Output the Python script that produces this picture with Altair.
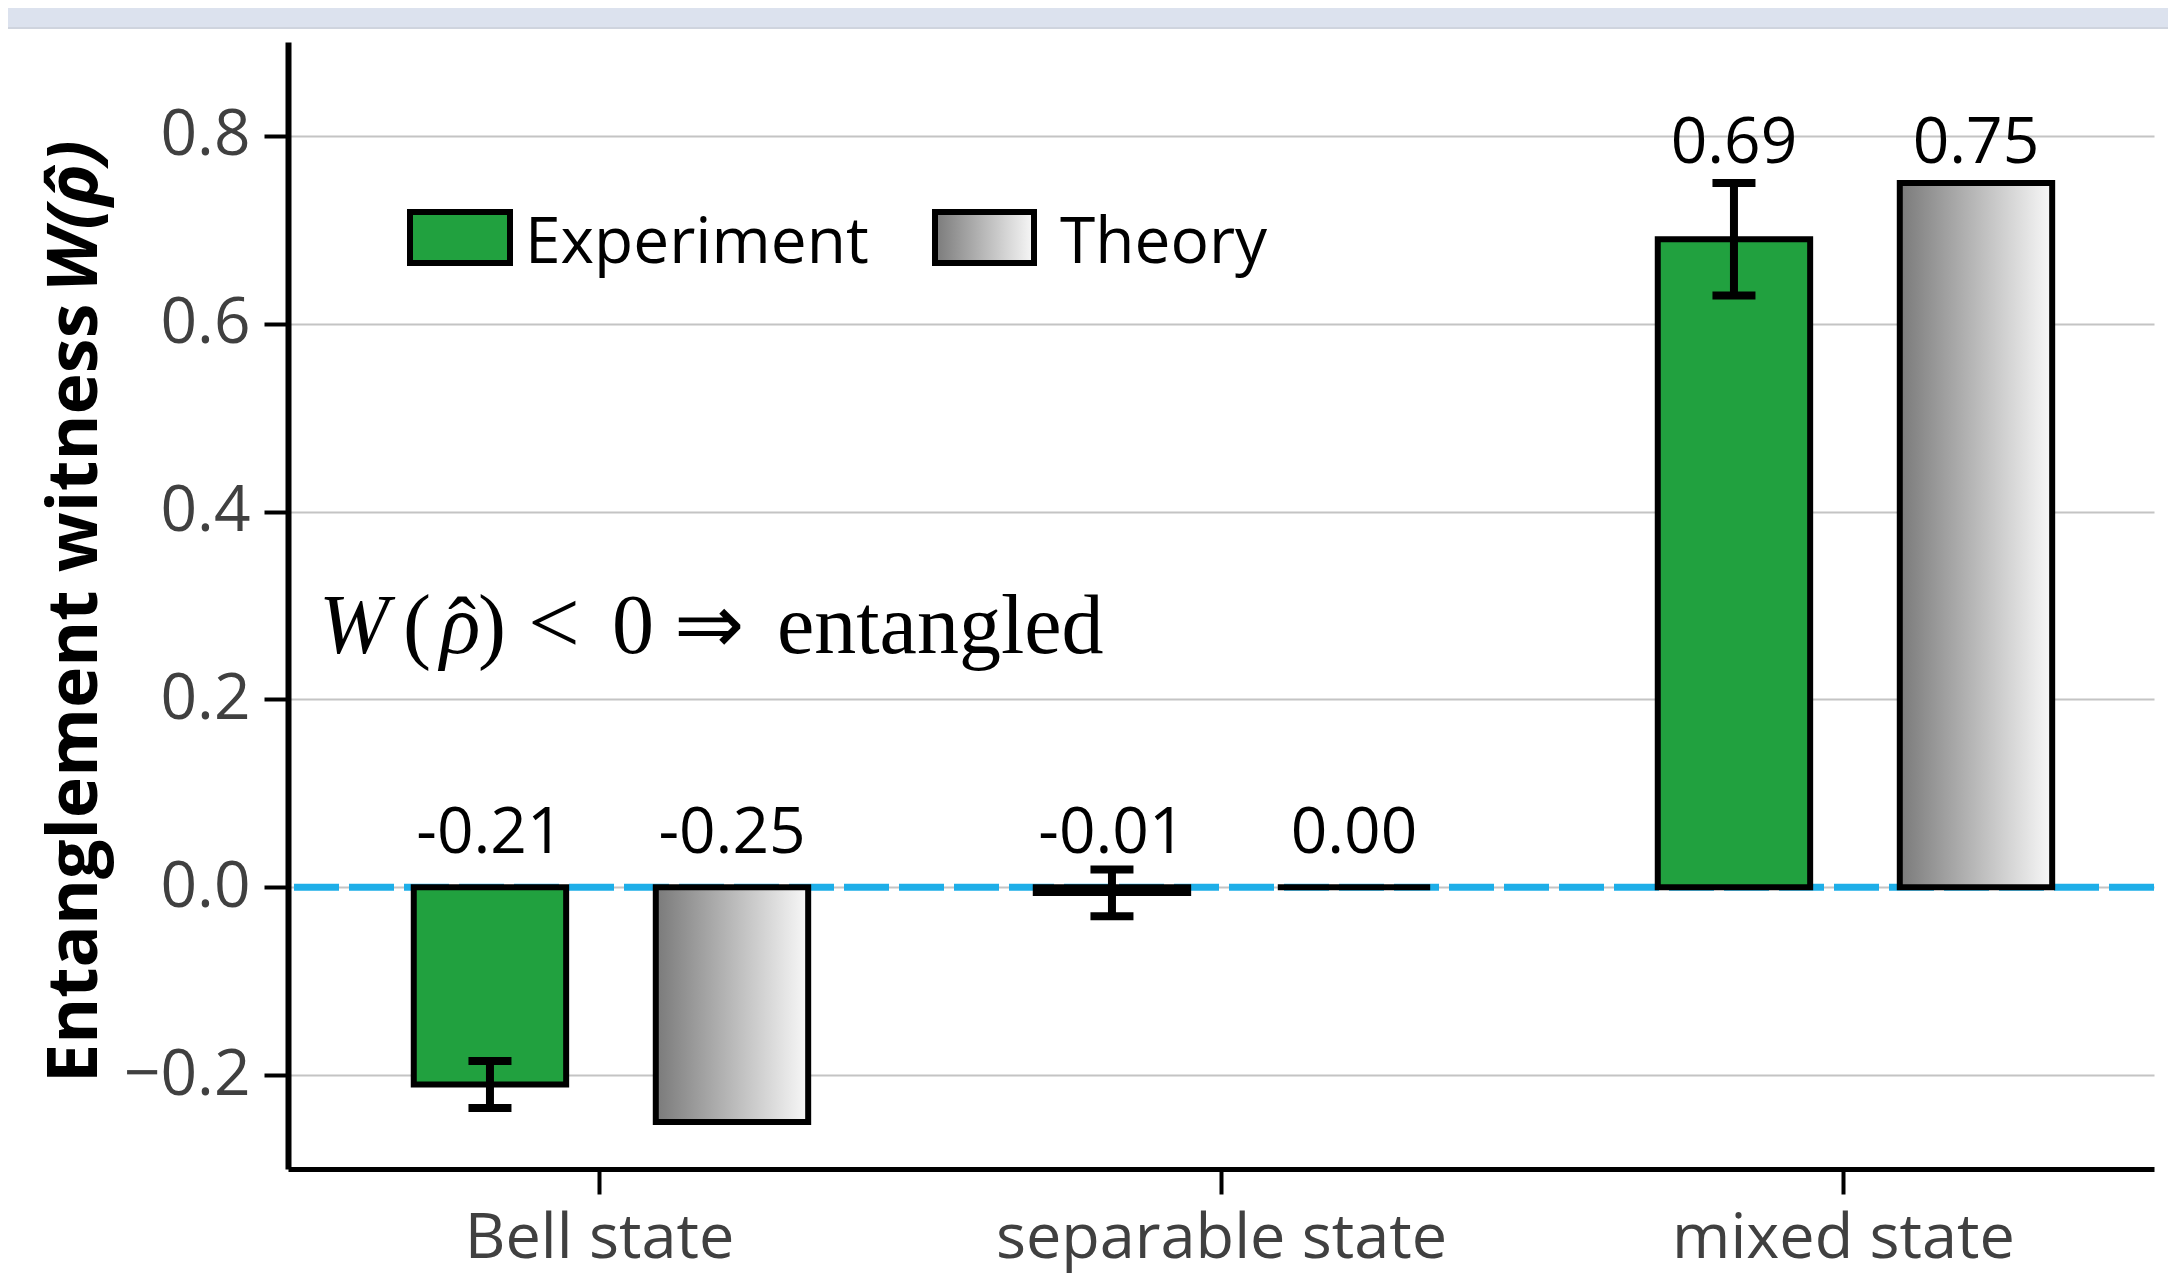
import altair as alt
import pandas as pd

# ---------------- data ----------------
categories = ["Bell state", "separable state", "mixed state"]
series = ["Experiment", "Theory"]
experiment = [-0.21, -0.006, 0.69]
experiment_err = [0.025, 0.025, 0.06]
theory = [-0.25, 0.0, 0.75]
exp_labels = ["-0.21", "-0.01", "0.69"]
theory_labels = ["-0.25", "0.00", "0.75"]
y_ticks = [-0.2, 0.0, 0.2, 0.4, 0.6, 0.8]
y_title_words = "Entanglement witness"
y_title_math = "W(\u03c1\u0302)"

# ---------------- layout / style ----------------
W, H = 1866, 1127
EXP_OFF, TH_OFF, HALF = -0.1753, 0.2138, 0.1225
GREEN = "#21a13f"
ZERO_BLUE = "#1eaee8"
GRAY_TXT = "#404040"
FONT = "Open Sans"
SERIF = "Liberation Serif"

rows = []
for i, c in enumerate(categories):
    rows.append(dict(idx=i, cat=c, series=series[0], value=experiment[i],
                     err=experiment_err[i], label=exp_labels[i], off=EXP_OFF))
    rows.append(dict(idx=i, cat=c, series=series[1], value=theory[i],
                     err=0.0, label=theory_labels[i], off=TH_OFF))
df = pd.DataFrame(rows)

label_expr = "[" + ",".join("'%s'" % c for c in categories) + "][datum.value]"

xscale = alt.Scale(domain=[-0.5, 2.5], nice=False, zero=False)
yscale = alt.Scale(domain=[-0.3, 0.9], nice=False, zero=False)

base = alt.Chart(df).transform_calculate(
    xc="datum.idx + datum.off",
    x0=f"datum.idx + datum.off - {HALF}",
    x1=f"datum.idx + datum.off + {HALF}",
    lo="datum.value - datum.err",
    hi="datum.value + datum.err",
    zero="0",
    top="datum.value > 0 ? datum.value + datum.err : 0",
).transform_calculate(
    ly="datum.top > 0 ? datum.top + 0.0213 : 0.0362"
)

x_axis = alt.Axis(values=[0, 1, 2], labelExpr=label_expr, grid=False, title=None,
                  tickSize=25, tickWidth=4, tickColor="black",
                  domainColor="black", domainWidth=5,
                  labelFont=FONT, labelFontSize=63, labelColor=GRAY_TXT,
                  labelPadding=13, labelLimit=2000)
y_axis = alt.Axis(values=y_ticks, format=".1f", grid=True, gridColor="#c4c4c4",
                  gridWidth=2, tickSize=24, tickWidth=4, tickColor="black",
                  domainColor="black", domainWidth=6,
                  labelFont=FONT, labelFontSize=64, labelColor=GRAY_TXT,
                  labelPadding=14, title=None)

theory_fill = alt.LinearGradient(
    gradient="linear",
    stops=[alt.GradientStop(color="#7a7a7a", offset=0),
           alt.GradientStop(color="#f8f8f8", offset=1)],
    x1=0, x2=1, y1=0, y2=0,
)

# zero reference line (drawn first -> under the bars)
zero_line = alt.Chart(pd.DataFrame({"z": [0.0]})).mark_rule(
    color=ZERO_BLUE, strokeWidth=7, strokeDash=[45, 10]
).encode(y=alt.Y("z:Q", scale=yscale, axis=y_axis))

exp_bars = base.transform_filter(alt.datum.series == series[0]).mark_rect(
    fill=GREEN, stroke="black", strokeWidth=6
).encode(
    x=alt.X("x0:Q", scale=xscale, axis=x_axis),
    x2="x1:Q",
    y=alt.Y("value:Q", scale=yscale, axis=y_axis),
    y2="zero:Q",
)

th_bars = base.transform_filter(alt.datum.series == series[1]).mark_rect(
    fill=theory_fill, stroke="black", strokeWidth=6
).encode(x="x0:Q", x2="x1:Q", y="value:Q", y2="zero:Q")

errs = base.transform_filter(alt.datum.series == series[0])
stems = errs.mark_rule(color="black", strokeWidth=8).encode(
    x="xc:Q", y="lo:Q", y2="hi:Q")
cap_lo = errs.mark_tick(color="black", orient="horizontal", size=43,
                        thickness=8, opacity=1).encode(x="xc:Q", y="lo:Q")
cap_hi = errs.mark_tick(color="black", orient="horizontal", size=43,
                        thickness=8, opacity=1).encode(x="xc:Q", y="hi:Q")

labels = base.mark_text(font=FONT, fontSize=64, color="black",
                        align="center", baseline="alphabetic").encode(
    x="xc:Q", y="ly:Q", text="label:N")

# y-axis title (two pieces: words upright, math italic)
title_words = alt.Chart(pd.DataFrame({"t": [y_title_words]})).mark_text(
    font=FONT, fontSize=70, fontWeight="bold", color="black", angle=270,
    align="left", baseline="middle"
).encode(x=alt.value(-212), y=alt.value(1041), text="t:N")
title_math = alt.Chart(pd.DataFrame({"t": [y_title_math]})).mark_text(
    font=FONT, fontSize=70, fontWeight="bold", fontStyle="italic", color="black",
    angle=270, align="left", baseline="middle"
).encode(x=alt.value(-212), y=alt.value(250), text="t:N")

# legend (drawn by hand)
one = pd.DataFrame({"a": [0]})
leg_exp_box = alt.Chart(one).mark_rect(fill=GREEN, stroke="black", strokeWidth=6).encode(
    x=alt.value(122), x2=alt.value(222), y=alt.value(170), y2=alt.value(221))
leg_th_box = alt.Chart(one).mark_rect(fill=theory_fill, stroke="black", strokeWidth=6).encode(
    x=alt.value(647), x2=alt.value(746), y=alt.value(170), y2=alt.value(221))
leg_exp_txt = alt.Chart(pd.DataFrame({"t": [series[0]]})).mark_text(
    font=FONT, fontSize=64, color="black", align="left", baseline="alphabetic"
).encode(x=alt.value(237), y=alt.value(221), text="t:N")
leg_th_txt = alt.Chart(pd.DataFrame({"t": [series[1]]})).mark_text(
    font=FONT, fontSize=64, color="black", align="left", baseline="alphabetic"
).encode(x=alt.value(772), y=alt.value(221), text="t:N")

# annotation  W(rho-hat) < 0 => entangled
ann_pieces = [("W", 31, 611, 84, "italic"), ("(", 115, 611, 84, "normal"),
              ("\u03c1", 152, 611, 84, "italic"), ("\u02c6", 160, 613, 84, "normal"),
              (")", 190, 611, 84, "normal"), ("<", 240, 611, 92, "normal"),
              ("0", 324, 611, 84, "normal"), ("\u21d2", 386, 611, 84, "normal"),
              ("entangled", 489, 611, 84, "normal")]
ann_layers = []
for txt, px, py, fs, style in ann_pieces:
    ann_layers.append(
        alt.Chart(pd.DataFrame({"t": [txt]})).mark_text(
            font=SERIF, fontSize=fs, color="black", align="left",
            baseline="alphabetic", fontStyle=style
        ).encode(x=alt.value(px), y=alt.value(py), text="t:N")
    )

# top page band
band = alt.Chart(one).mark_rect(fill="#dce2ee").encode(
    x=alt.value(-290), x2=alt.value(W + 20), y=alt.value(-34), y2=alt.value(-14))
band_line = alt.Chart(one).mark_rule(color="#cfd4de", strokeWidth=2).encode(
    x=alt.value(-290), x2=alt.value(W + 20), y=alt.value(-14))

chart = alt.layer(
    zero_line, exp_bars, th_bars, stems, cap_lo, cap_hi, labels,
    title_words, title_math,
    leg_exp_box, leg_th_box, leg_exp_txt, leg_th_txt, band, band_line,
    *ann_layers
).properties(
    width=W, height=H,
    autosize=alt.AutoSizeParams(type="none"),
    padding={"left": 280, "top": 34, "right": 14, "bottom": 110},
    background="white",
).configure_view(stroke=None)

chart.save("out.html", embed_options={"renderer": "svg", "actions": False})
